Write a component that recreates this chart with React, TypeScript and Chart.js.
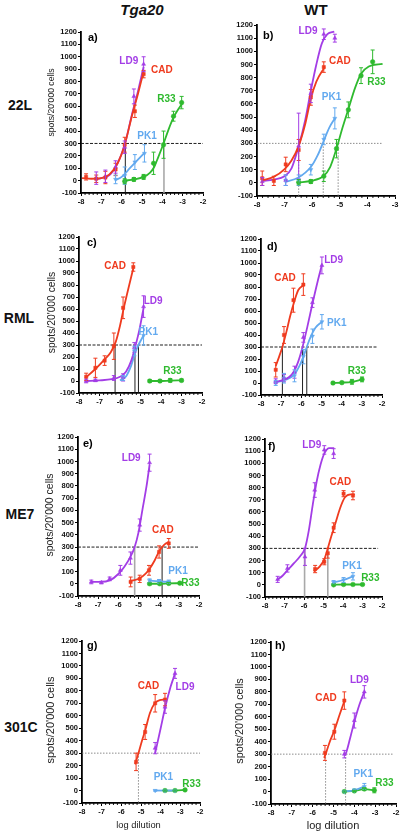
import React, { useEffect, useRef } from 'react';
import { Chart, registerables } from 'chart.js';

Chart.register(...registerables);
Chart.defaults.font.family = "'Liberation Sans', Arial, sans-serif";

// ---------- categories / labels ----------
const HOSTS = ['Tga20', 'WT'];
const STRAINS = ['22L', 'RML', 'ME7', '301C'];
const SERIES = ['CAD', 'LD9', 'PK1', 'R33'];
const LETTERS = ['a)', 'b)', 'c)', 'd)', 'e)', 'f)', 'g)', 'h)'];
const Y_MIN = -100;
const Y_MAX = 1200;
const Y_STEP = 100;
const X_MIN = -8;
const X_MAX = [-2, -3, -2, -2, -2, -2, -2, -2];
const X_MINOR_STEP = 0.2;
const THRESHOLD = 300;
const Y_TITLE = "spots/20'000 cells";
const X_TITLE = 'log dilution';

// ---------- data: [log dilution, spots, error] and fitted curve samples [x, y] ----------
// a) Tga20 / 22L
const a_CAD = [[-7.75, 30, 25], [-7.25, 15, 30], [-6.8, 25, 50], [-6.3, 90, 50], [-5.85, 290, 60], [-5.35, 560, 50], [-4.92, 860, 30]];
const a_CAD_fit = [[-7.95, 20], [-7.5, 15], [-7, 20], [-6.6, 50], [-6.2, 140], [-5.85, 290], [-5.5, 520], [-5.2, 700], [-4.92, 880]];
const a_LD9 = [[-7.25, 20, 50], [-6.8, 35, 50], [-6.3, 110, 50], [-5.85, 270, 50], [-5.4, 680, 60], [-4.92, 940, 60]];
const a_LD9_fit = [[-7.3, 10], [-7, 20], [-6.6, 45], [-6.2, 140], [-5.85, 290], [-5.5, 530], [-5.2, 720], [-4.92, 920]];
const a_PK1 = [[-6.3, 10, 35], [-5.85, 40, 70], [-5.35, 150, 60], [-4.88, 220, 70]];
const a_PK1_fit = [[-6.3, 5], [-6, 30], [-5.6, 100], [-5.2, 170], [-4.88, 225]];
const a_R33 = [[-5.85, -5, 20], [-5.4, 10, 15], [-4.92, 30, 20], [-4.43, 140, 90], [-3.94, 290, 110], [-3.45, 520, 40], [-3.05, 630, 50]];
const a_R33_fit = [[-5.85, 0], [-5.4, 10], [-4.92, 30], [-4.6, 65], [-4.4, 110], [-4.2, 190], [-3.94, 300], [-3.7, 410], [-3.45, 510], [-3.2, 580], [-3.0, 630]];
const a_CROSS = [-5.82, -3.92];

// b) WT / 22L
const b_CAD = [[-7.81, 35, 55], [-7.39, 15, 35], [-6.96, 140, 55], [-6.49, 250, 80], [-6.05, 650, 60], [-5.58, 880, 40]];
const b_CAD_fit = [[-7.8, 20], [-7.4, 45], [-7.0, 105], [-6.75, 170], [-6.5, 275], [-6.25, 450], [-6.05, 640], [-5.85, 770], [-5.55, 880]];
const b_LD9 = [[-7.81, 10, 30], [-6.96, 20, 40], [-6.49, 280, 250], [-6.05, 680, 70], [-5.58, 1130, 40], [-5.18, 1100, 30]];
const b_LD9_fit = [[-7.8, 15], [-7.4, 25], [-7.0, 50], [-6.75, 110], [-6.5, 270], [-6.25, 480], [-6.05, 700], [-5.85, 900], [-5.65, 1060], [-5.45, 1130], [-5.2, 1150]];
const b_PK1 = [[-6.96, 20, 40], [-6.49, 20, 40], [-6.05, 100, 40], [-5.58, 330, 40], [-5.18, 490, 80]];
const b_PK1_fit = [[-7.0, 5], [-6.5, 40], [-6.05, 120], [-5.8, 210], [-5.6, 310], [-5.38, 420], [-5.18, 490]];
const b_R33 = [[-6.49, 5, 20], [-6.05, 10, 15], [-5.58, 50, 40], [-5.12, 260, 70], [-4.69, 555, 60], [-4.23, 815, 60], [-3.81, 920, 90]];
const b_R33_fit = [[-6.5, 3], [-6.05, 15], [-5.6, 50], [-5.35, 120], [-5.12, 260], [-4.9, 420], [-4.69, 560], [-4.45, 720], [-4.23, 830], [-3.95, 885], [-3.45, 905]];
const b_CROSS = [-6.49, -5.6, -5.06];

// c) Tga20 / RML
const c_CAD = [[-7.65, 35, 30], [-7.2, 110, 80], [-6.75, 170, 40], [-6.3, 290, 110], [-5.85, 610, 90], [-5.35, 950, 35]];
const c_CAD_fit = [[-7.7, 25], [-7.2, 100], [-6.75, 180], [-6.45, 240], [-6.2, 330], [-6.0, 460], [-5.8, 620], [-5.55, 800], [-5.35, 940]];
const c_LD9 = [[-7.65, 0, 15], [-7.2, 5, 10], [-6.3, 25, 20], [-5.85, 30, 30], [-5.3, 280, 40], [-4.85, 620, 90]];
const c_LD9_fit = [[-7.65, 0], [-7.0, 5], [-6.4, 15], [-6.0, 35], [-5.7, 80], [-5.45, 170], [-5.25, 290], [-5.05, 430], [-4.85, 610]];
const c_PK1 = [[-5.85, 25, 20], [-5.3, 250, 40], [-4.85, 380, 80]];
const c_PK1_fit = [[-6.0, 5], [-5.7, 40], [-5.45, 130], [-5.25, 240], [-5.1, 300], [-4.85, 380]];
const c_R33 = [[-4.55, 0, 10], [-4.05, 0, 10], [-3.55, 5, 15], [-3.0, 5, 10]];
const c_R33_fit = [[-4.55, 0], [-4.05, 0], [-3.55, 3], [-3.0, 5]];
const c_CROSS = [-6.24, -5.27, -5.1];

// d) WT / RML
const d_CAD = [[-7.27, 110, 60], [-6.86, 400, 70], [-6.39, 690, 100], [-5.9, 820, 90]];
const d_CAD_fit = [[-7.27, 140], [-7.1, 220], [-6.94, 300], [-6.75, 420], [-6.55, 560], [-6.35, 680], [-6.15, 775], [-5.9, 815]];
const d_LD9 = [[-7.27, 15, 20], [-6.86, 40, 30], [-6.34, 90, 50], [-5.9, 380, 40], [-5.45, 670, 40], [-4.98, 980, 70]];
const d_LD9_fit = [[-7.27, 10], [-6.9, 25], [-6.6, 50], [-6.35, 100], [-6.15, 180], [-5.94, 300], [-5.7, 470], [-5.45, 660], [-5.2, 840], [-4.98, 985]];
const d_PK1 = [[-7.27, 0, 20], [-6.86, 40, 40], [-6.34, 60, 50], [-5.9, 220, 60], [-5.45, 390, 60], [-4.98, 510, 60]];
const d_PK1_fit = [[-7.27, 5], [-6.8, 25], [-6.35, 70], [-6.1, 140], [-5.9, 220], [-5.73, 300], [-5.55, 380], [-5.3, 460], [-4.98, 510]];
const d_R33 = [[-4.43, 0, 8], [-3.99, 3, 8], [-3.49, 10, 20], [-2.99, 30, 20]];
const d_R33_fit = [[-4.43, 0], [-3.99, 3], [-3.49, 10], [-2.99, 30]];
const d_CROSS = [-6.94, -5.94, -5.73];

// e) Tga20 / ME7
const e_CAD = [[-5.39, 15, 40], [-4.94, 40, 30], [-4.48, 110, 40], [-3.98, 260, 50], [-3.5, 330, 40]];
const e_CAD_fit = [[-5.44, 25], [-5.2, 30], [-4.94, 45], [-4.7, 75], [-4.48, 115], [-4.2, 190], [-3.98, 265], [-3.83, 300], [-3.65, 330], [-3.49, 340]];
const e_LD9 = [[-7.34, 15, 15], [-6.84, 10, 10], [-6.43, 40, 15], [-5.9, 110, 40], [-5.4, 210, 50], [-4.94, 480, 50], [-4.45, 990, 70]];
const e_LD9_fit = [[-7.34, 15], [-6.9, 15], [-6.4, 30], [-6.0, 80], [-5.7, 140], [-5.4, 220], [-5.19, 300], [-5.0, 420], [-4.8, 610], [-4.6, 800], [-4.45, 975]];
const e_PK1 = [[-4.45, 25, 15], [-3.98, 20, 15], [-3.5, 15, 15]];
const e_PK1_fit = [[-4.45, 25], [-3.98, 20], [-3.5, 15]];
const e_R33 = [[-4.45, 0, 8], [-3.95, 0, 8], [-3.5, 3, 8], [-2.95, 5, 8]];
const e_R33_fit = [[-4.45, 0], [-3.95, 0], [-3.5, 3], [-2.95, 5]];
const e_CROSS = [-5.19, -3.83];

// f) WT / ME7
const f_CAD = [[-5.43, 130, 30], [-4.96, 190, 25], [-4.78, 260, 40], [-4.48, 470, 40], [-3.97, 750, 25], [-3.49, 735, 35]];
const f_CAD_fit = [[-5.5, 110], [-5.2, 150], [-4.96, 210], [-4.78, 300], [-4.6, 400], [-4.4, 500], [-4.15, 630], [-3.9, 720], [-3.6, 745], [-3.4, 745]];
const f_LD9 = [[-7.35, 45, 25], [-6.85, 135, 30], [-5.95, 230, 70], [-5.45, 780, 60], [-4.96, 1110, 35], [-4.48, 1080, 40]];
const f_LD9_fit = [[-7.4, 40], [-7.1, 75], [-6.85, 120], [-6.5, 180], [-6.2, 235], [-5.95, 300], [-5.75, 450], [-5.55, 660], [-5.35, 850], [-5.15, 990], [-4.96, 1080], [-4.7, 1125], [-4.45, 1125]];
const f_PK1 = [[-4.48, 20, 15], [-3.97, 40, 20], [-3.49, 70, 30]];
const f_PK1_fit = [[-4.48, 20], [-3.97, 40], [-3.49, 70]];
const f_R33 = [[-4.48, 0, 5], [-3.97, 3, 5], [-3.49, 3, 5], [-3.0, 3, 5]];
const f_R33_fit = [[-4.48, 0], [-3.97, 3], [-3.49, 3], [-3.0, 3]];
const f_CROSS = [-5.97, -4.78];

// g) Tga20 / 301C
const g_CAD = [[-5.25, 230, 70], [-4.79, 470, 60], [-4.28, 700, 70], [-3.78, 730, 50]];
const g_CAD_fit = [[-5.3, 210], [-5.13, 300], [-4.95, 400], [-4.79, 480], [-4.55, 620], [-4.3, 700], [-4.05, 725], [-3.78, 730]];
const g_LD9 = [[-4.28, 340, 45], [-3.78, 670, 50], [-3.27, 940, 40]];
const g_LD9_fit = [[-4.28, 300], [-4.0, 500], [-3.78, 660], [-3.5, 830], [-3.27, 940]];
const g_PK1 = [[-4.28, 0, 5], [-3.78, 0, 5], [-3.27, 0, 5]];
const g_PK1_fit = [[-4.28, 0], [-3.78, 0], [-3.27, 0]];
const g_R33 = [[-3.78, 0, 5], [-3.27, 0, 5], [-2.76, 5, 5]];
const g_R33_fit = [[-3.78, 0], [-3.27, 0], [-2.76, 5]];
const g_CROSS = [-5.13];

// h) WT / 301C
const h_CAD = [[-5.41, 310, 60], [-4.96, 480, 60], [-4.48, 730, 70]];
const h_CAD_fit = [[-5.45, 270], [-5.38, 300], [-5.2, 390], [-4.96, 490], [-4.7, 620], [-4.48, 725]];
const h_LD9 = [[-4.48, 300, 30], [-4.0, 570, 60], [-3.52, 800, 50]];
const h_LD9_fit = [[-4.48, 290], [-4.42, 300], [-4.2, 430], [-4.0, 560], [-3.75, 700], [-3.52, 800]];
const h_PK1 = [[-4.48, 0, 5], [-4.0, 10, 10], [-3.52, 40, 25]];
const h_PK1_fit = [[-4.48, 0], [-4.0, 10], [-3.52, 40]];
const h_R33 = [[-4.48, 0, 5], [-4.0, 5, 5], [-3.52, 20, 10], [-3.04, 10, 20]];
const h_R33_fit = [[-4.48, 0], [-4.0, 5], [-3.52, 20], [-3.04, 10]];
const h_CROSS = [-5.38, -4.42];

// ---------- styles ----------
const COLORS: Record<string, string> = { CAD: '#ef3b1f', LD9: '#a33de6', PK1: '#62a9ef', R33: '#2fba2f' };
const MARKER: Record<string, { style: string; rot: number }> = {
  CAD: { style: 'rect', rot: 0 },
  LD9: { style: 'triangle', rot: 0 },
  PK1: { style: 'triangle', rot: 180 },
  R33: { style: 'circle', rot: 0 },
};
const DARK = 'rgba(20,20,20,0.95)';
const GREY = 'rgba(120,120,120,0.85)';
const LIGHT = 'rgba(160,160,160,0.9)';

// ---------- panel assembly (layout in page pixels, label anchors in data units) ----------
const PTS = [
  { CAD: a_CAD, LD9: a_LD9, PK1: a_PK1, R33: a_R33 },
  { CAD: b_CAD, LD9: b_LD9, PK1: b_PK1, R33: b_R33 },
  { CAD: c_CAD, LD9: c_LD9, PK1: c_PK1, R33: c_R33 },
  { CAD: d_CAD, LD9: d_LD9, PK1: d_PK1, R33: d_R33 },
  { CAD: e_CAD, LD9: e_LD9, PK1: e_PK1, R33: e_R33 },
  { CAD: f_CAD, LD9: f_LD9, PK1: f_PK1, R33: f_R33 },
  { CAD: g_CAD, LD9: g_LD9, PK1: g_PK1, R33: g_R33 },
  { CAD: h_CAD, LD9: h_LD9, PK1: h_PK1, R33: h_R33 },
];
const FITS = [
  { CAD: a_CAD_fit, LD9: a_LD9_fit, PK1: a_PK1_fit, R33: a_R33_fit },
  { CAD: b_CAD_fit, LD9: b_LD9_fit, PK1: b_PK1_fit, R33: b_R33_fit },
  { CAD: c_CAD_fit, LD9: c_LD9_fit, PK1: c_PK1_fit, R33: c_R33_fit },
  { CAD: d_CAD_fit, LD9: d_LD9_fit, PK1: d_PK1_fit, R33: d_R33_fit },
  { CAD: e_CAD_fit, LD9: e_LD9_fit, PK1: e_PK1_fit, R33: e_R33_fit },
  { CAD: f_CAD_fit, LD9: f_LD9_fit, PK1: f_PK1_fit, R33: f_R33_fit },
  { CAD: g_CAD_fit, LD9: g_LD9_fit, PK1: g_PK1_fit, R33: g_R33_fit },
  { CAD: h_CAD_fit, LD9: h_LD9_fit, PK1: h_PK1_fit, R33: h_R33_fit },
];
const CROSSES = [a_CROSS, b_CROSS, c_CROSS, d_CROSS, e_CROSS, f_CROSS, g_CROSS, h_CROSS];

const LAYOUT = [
  { box: { L: 81, R: 203, T: 32, B: 193 }, hDark: true, hEnd: -2, crossDark: [true, false], letter: [7, 5.5],
    labels: { LD9: [-5.65, 964], CAD: [-4.02, 888], R33: [-3.8, 654], PK1: [-4.75, 358] },
    yTitle: { x: 52, y: 102.5, size: 8.6 }, xTitle: null },
  { box: { L: 257, R: 395, T: 25, B: 196 }, hDark: false, hEnd: -3.45, crossDark: [false, false, false], letter: [6, 11],
    labels: { LD9: [-6.15, 1149], CAD: [-5.0, 926], PK1: [-5.3, 654], R33: [-3.67, 768] },
    yTitle: null, xTitle: null },
  { box: { L: 79, R: 202, T: 237, B: 393 }, hDark: true, hEnd: -2, crossDark: [true, true, true], letter: [8, 6],
    labels: { CAD: [-6.24, 960], LD9: [-4.38, 661], PK1: [-4.62, 410], R33: [-3.44, 84] },
    yTitle: { x: 52, y: 312.5, size: 10.3 }, xTitle: null },
  { box: { L: 261, R: 382, T: 239, B: 395 }, hDark: true, hEnd: -2.2, crossDark: [true, true, true], letter: [6, 8],
    labels: { CAD: [-6.81, 872], LD9: [-4.4, 1025], PK1: [-4.24, 497], R33: [-3.24, 94] },
    yTitle: null, xTitle: null },
  { box: { L: 78, R: 199, T: 437, B: 596 }, hDark: true, hEnd: -2, crossDark: [false, true], letter: [5, 7],
    labels: { LD9: [-5.36, 1028], CAD: [-3.79, 439], PK1: [-3.04, 105], R33: [-2.43, 1] },
    yTitle: { x: 50, y: 515, size: 10.5 }, xTitle: null },
  { box: { L: 265, R: 382, T: 439, B: 597 }, hDark: true, hEnd: -2.2, crossDark: [false, false], letter: [3, 8],
    labels: { LD9: [-5.6, 1145], CAD: [-4.14, 842], PK1: [-3.54, 156], R33: [-2.6, 57] },
    yTitle: null, xTitle: null },
  { box: { L: 82, R: 200, T: 641, B: 803 }, hDark: false, hEnd: -2, crossDark: [false], letter: [5, 5],
    labels: { CAD: [-4.62, 836], LD9: [-2.76, 831], PK1: [-3.86, 109], R33: [-2.43, 50] },
    yTitle: { x: 50.5, y: 720, size: 11 }, xTitle: { x: 138.5, y: 825, size: 9.3 } },
  { box: { L: 271, R: 396, T: 642, B: 804 }, hDark: false, hEnd: -2.1, crossDark: [false, false], letter: [4, 4],
    labels: { CAD: [-5.36, 746], LD9: [-3.76, 893], PK1: [-3.57, 140], R33: [-2.56, 65] },
    yTitle: { x: 240, y: 721, size: 10.8 }, xTitle: { x: 333, y: 826, size: 11 } },
];

const ROW_LABELS = [
  { x: 20, y: 105 }, { x: 19, y: 318 }, { x: 20, y: 514 }, { x: 21, y: 727 },
];
const COL_LABELS = [{ x: 142, y: 10, italic: true }, { x: 316, y: 10, italic: false }];

const TICK_FONT = { size: 7.5, weight: 'bold' as const };

function Panel({ idx }: { idx: number }) {
  const ref = useRef<HTMLCanvasElement>(null);
  const lay = LAYOUT[idx];
  const { L, R, T, B } = lay.box;
  const cl = Math.max(0, L - 46);
  const ct = T - 14;
  const cr = R + 14;
  const cb = B + 32;
  const w = cr - cl;
  const h = cb - ct;

  useEffect(() => {
    const datasets: any[] = [];
    SERIES.forEach((s) => {
      const pts = (PTS[idx] as any)[s] as number[][];
      const fit = (FITS[idx] as any)[s] as number[][];
      datasets.push({
        label: s + ' points',
        data: pts.map((p) => ({ x: p[0], y: p[1] })),
        errs: pts.map((p) => p[2]),
        showLine: false,
        pointStyle: MARKER[s].style,
        rotation: MARKER[s].rot,
        pointRadius: 2.3,
        backgroundColor: COLORS[s],
        borderColor: COLORS[s],
        borderWidth: 0.5,
        clip: false,
        order: 1,
      });
      datasets.push({
        label: s,
        data: fit.map((p) => ({ x: p[0], y: p[1] })),
        showLine: true,
        pointRadius: 0,
        borderColor: COLORS[s],
        backgroundColor: COLORS[s],
        borderWidth: 1.8,
        cubicInterpolationMode: 'monotone',
        clip: false,
        order: 2,
      });
    });

    const decor = {
      id: 'decor' + idx,
      beforeDatasetsDraw(chart: any) {
        const { ctx, chartArea: ca } = chart;
        const xs = chart.scales.x;
        const ys = chart.scales.y;
        const yp = ys.getPixelForValue(THRESHOLD);
        ctx.save();
        ctx.lineWidth = 1;
        ctx.setLineDash(lay.hDark ? [3, 1.5] : [1.5, 1.5]);
        ctx.strokeStyle = lay.hDark ? DARK : GREY;
        ctx.beginPath();
        ctx.moveTo(ca.left, yp);
        ctx.lineTo(xs.getPixelForValue(lay.hEnd), yp);
        ctx.stroke();
        CROSSES[idx].forEach((v, i) => {
          const dark = lay.crossDark[i];
          if (dark) {
            ctx.strokeStyle = DARK;
            ctx.lineWidth = 1;
            ctx.setLineDash([]);
          } else if (lay.hDark) {
            ctx.strokeStyle = LIGHT;
            ctx.lineWidth = 1.6;
            ctx.setLineDash([]);
          } else {
            ctx.strokeStyle = GREY;
            ctx.lineWidth = 1;
            ctx.setLineDash([1.5, 1.5]);
          }
          const xp = xs.getPixelForValue(v);
          ctx.beginPath();
          ctx.moveTo(xp, yp);
          ctx.lineTo(xp, ca.bottom);
          ctx.stroke();
        });
        ctx.restore();
      },
      afterDatasetsDraw(chart: any) {
        const { ctx } = chart;
        const ys = chart.scales.y;
        ctx.save();
        ctx.lineWidth = 1;
        ctx.setLineDash([]);
        chart.data.datasets.forEach((ds: any, i: number) => {
          if (!ds.errs) return;
          const meta = chart.getDatasetMeta(i);
          ctx.strokeStyle = ds.borderColor;
          meta.data.forEach((el: any, j: number) => {
            const p = ds.data[j];
            const e = ds.errs[j];
            const t = ys.getPixelForValue(p.y + e);
            const b = ys.getPixelForValue(p.y - e);
            ctx.beginPath();
            ctx.moveTo(el.x, t);
            ctx.lineTo(el.x, b);
            ctx.moveTo(el.x - 2, t);
            ctx.lineTo(el.x + 2, t);
            ctx.moveTo(el.x - 2, b);
            ctx.lineTo(el.x + 2, b);
            ctx.stroke();
          });
        });
        ctx.restore();
      },
      afterDraw(chart: any) {
        const { ctx, chartArea: ca } = chart;
        const xs = chart.scales.x;
        const ys = chart.scales.y;
        ctx.save();
        // minor ticks on x axis
        ctx.strokeStyle = '#000';
        ctx.lineWidth = 0.9;
        const nMinor = Math.round((X_MAX[idx] - X_MIN) / X_MINOR_STEP);
        for (let k = 1; k < nMinor; k++) {
          const v = X_MIN + k * X_MINOR_STEP;
          if (Math.abs(v - Math.round(v)) < 1e-6) continue;
          const xp = xs.getPixelForValue(v);
          ctx.beginPath();
          ctx.moveTo(xp, ca.bottom);
          ctx.lineTo(xp, ca.bottom + 2);
          ctx.stroke();
        }
        // curve labels
        ctx.font = "bold 10px 'Liberation Sans', Arial, sans-serif";
        ctx.textAlign = 'center';
        ctx.textBaseline = 'middle';
        SERIES.forEach((s) => {
          const pos = (lay.labels as any)[s];
          if (!pos) return;
          ctx.fillStyle = COLORS[s];
          ctx.fillText(s, xs.getPixelForValue(pos[0]), ys.getPixelForValue(pos[1]));
        });
        // panel letter
        ctx.fillStyle = '#000';
        ctx.textAlign = 'left';
        ctx.font = "bold 11px 'Liberation Sans', Arial, sans-serif";
        ctx.fillText(LETTERS[idx], ca.left + lay.letter[0], ca.top + lay.letter[1]);
        // axis titles
        ctx.fillStyle = '#222';
        ctx.textAlign = 'center';
        if (lay.yTitle) {
          ctx.save();
          ctx.translate(lay.yTitle.x - cl, lay.yTitle.y - ct);
          ctx.rotate(-Math.PI / 2);
          ctx.font = `${lay.yTitle.size}px 'Liberation Sans', Arial, sans-serif`;
          ctx.fillText(Y_TITLE, 0, 0);
          ctx.restore();
        }
        if (lay.xTitle) {
          ctx.font = `${lay.xTitle.size}px 'Liberation Sans', Arial, sans-serif`;
          ctx.fillText(X_TITLE, lay.xTitle.x - cl, lay.xTitle.y - ct);
        }
        ctx.restore();
      },
    };

    const yW = L - cl;
    const xH = cb - B;
    const chart = new Chart(ref.current as HTMLCanvasElement, {
      type: 'scatter',
      data: { datasets },
      options: {
        responsive: false,
        maintainAspectRatio: false,
        devicePixelRatio: 1,
        animation: false,
        layout: { padding: { left: 0, top: T - ct, right: cr - R, bottom: 0 } },
        plugins: { legend: { display: false }, tooltip: { enabled: false } },
        scales: {
          x: {
            type: 'linear',
            min: X_MIN,
            max: X_MAX[idx],
            ticks: {
              stepSize: 1,
              autoSkip: false,
              maxRotation: 0,
              padding: 1,
              color: '#111',
              font: TICK_FONT,
              callback: (v: any) => String(v),
            },
            grid: { drawOnChartArea: false, drawTicks: true, tickLength: 3, tickColor: '#000', tickWidth: 1 },
            border: { display: true, color: '#000', width: 1.8 },
            afterFit: (s: any) => { s.height = xH; },
          },
          y: {
            type: 'linear',
            min: Y_MIN,
            max: Y_MAX,
            ticks: {
              stepSize: Y_STEP,
              autoSkip: false,
              padding: 1,
              color: '#111',
              font: TICK_FONT,
              callback: (v: any) => String(v),
            },
            grid: { drawOnChartArea: false, drawTicks: true, tickLength: 3, tickColor: '#000', tickWidth: 1 },
            border: { display: true, color: '#000', width: 1.8 },
            afterFit: (s: any) => { s.width = yW; },
          },
        },
      } as any,
      plugins: [decor as any],
    });
    return () => chart.destroy();
  }, []);

  return (
    <canvas
      ref={ref}
      width={w}
      height={h}
      style={{ position: 'absolute', left: cl, top: ct, width: w, height: h }}
    />
  );
}

export default function App() {
  return (
    <div
      style={{
        position: 'absolute',
        left: 0,
        top: 0,
        width: 401,
        height: 833,
        overflow: 'hidden',
        background: '#fff',
        fontFamily: "'Liberation Sans', Arial, sans-serif",
      }}
    >
      {HOSTS.map((hname, i) => (
        <div
          key={hname}
          style={{
            position: 'absolute',
            left: COL_LABELS[i].x - 40,
            top: COL_LABELS[i].y - 9,
            width: 80,
            lineHeight: '18px',
            textAlign: 'center',
            fontWeight: 'bold',
            fontStyle: COL_LABELS[i].italic ? 'italic' : 'normal',
            fontSize: 15,
            color: '#111',
          }}
        >
          {hname}
        </div>
      ))}
      {STRAINS.map((sname, i) => (
        <div
          key={sname}
          style={{
            position: 'absolute',
            left: ROW_LABELS[i].x - 30,
            top: ROW_LABELS[i].y - 9,
            width: 60,
            lineHeight: '18px',
            textAlign: 'center',
            fontWeight: 'bold',
            fontSize: 14,
            color: '#111',
          }}
        >
          {sname}
        </div>
      ))}
      {LAYOUT.map((_, i) => (
        <Panel key={i} idx={i} />
      ))}
    </div>
  );
}
